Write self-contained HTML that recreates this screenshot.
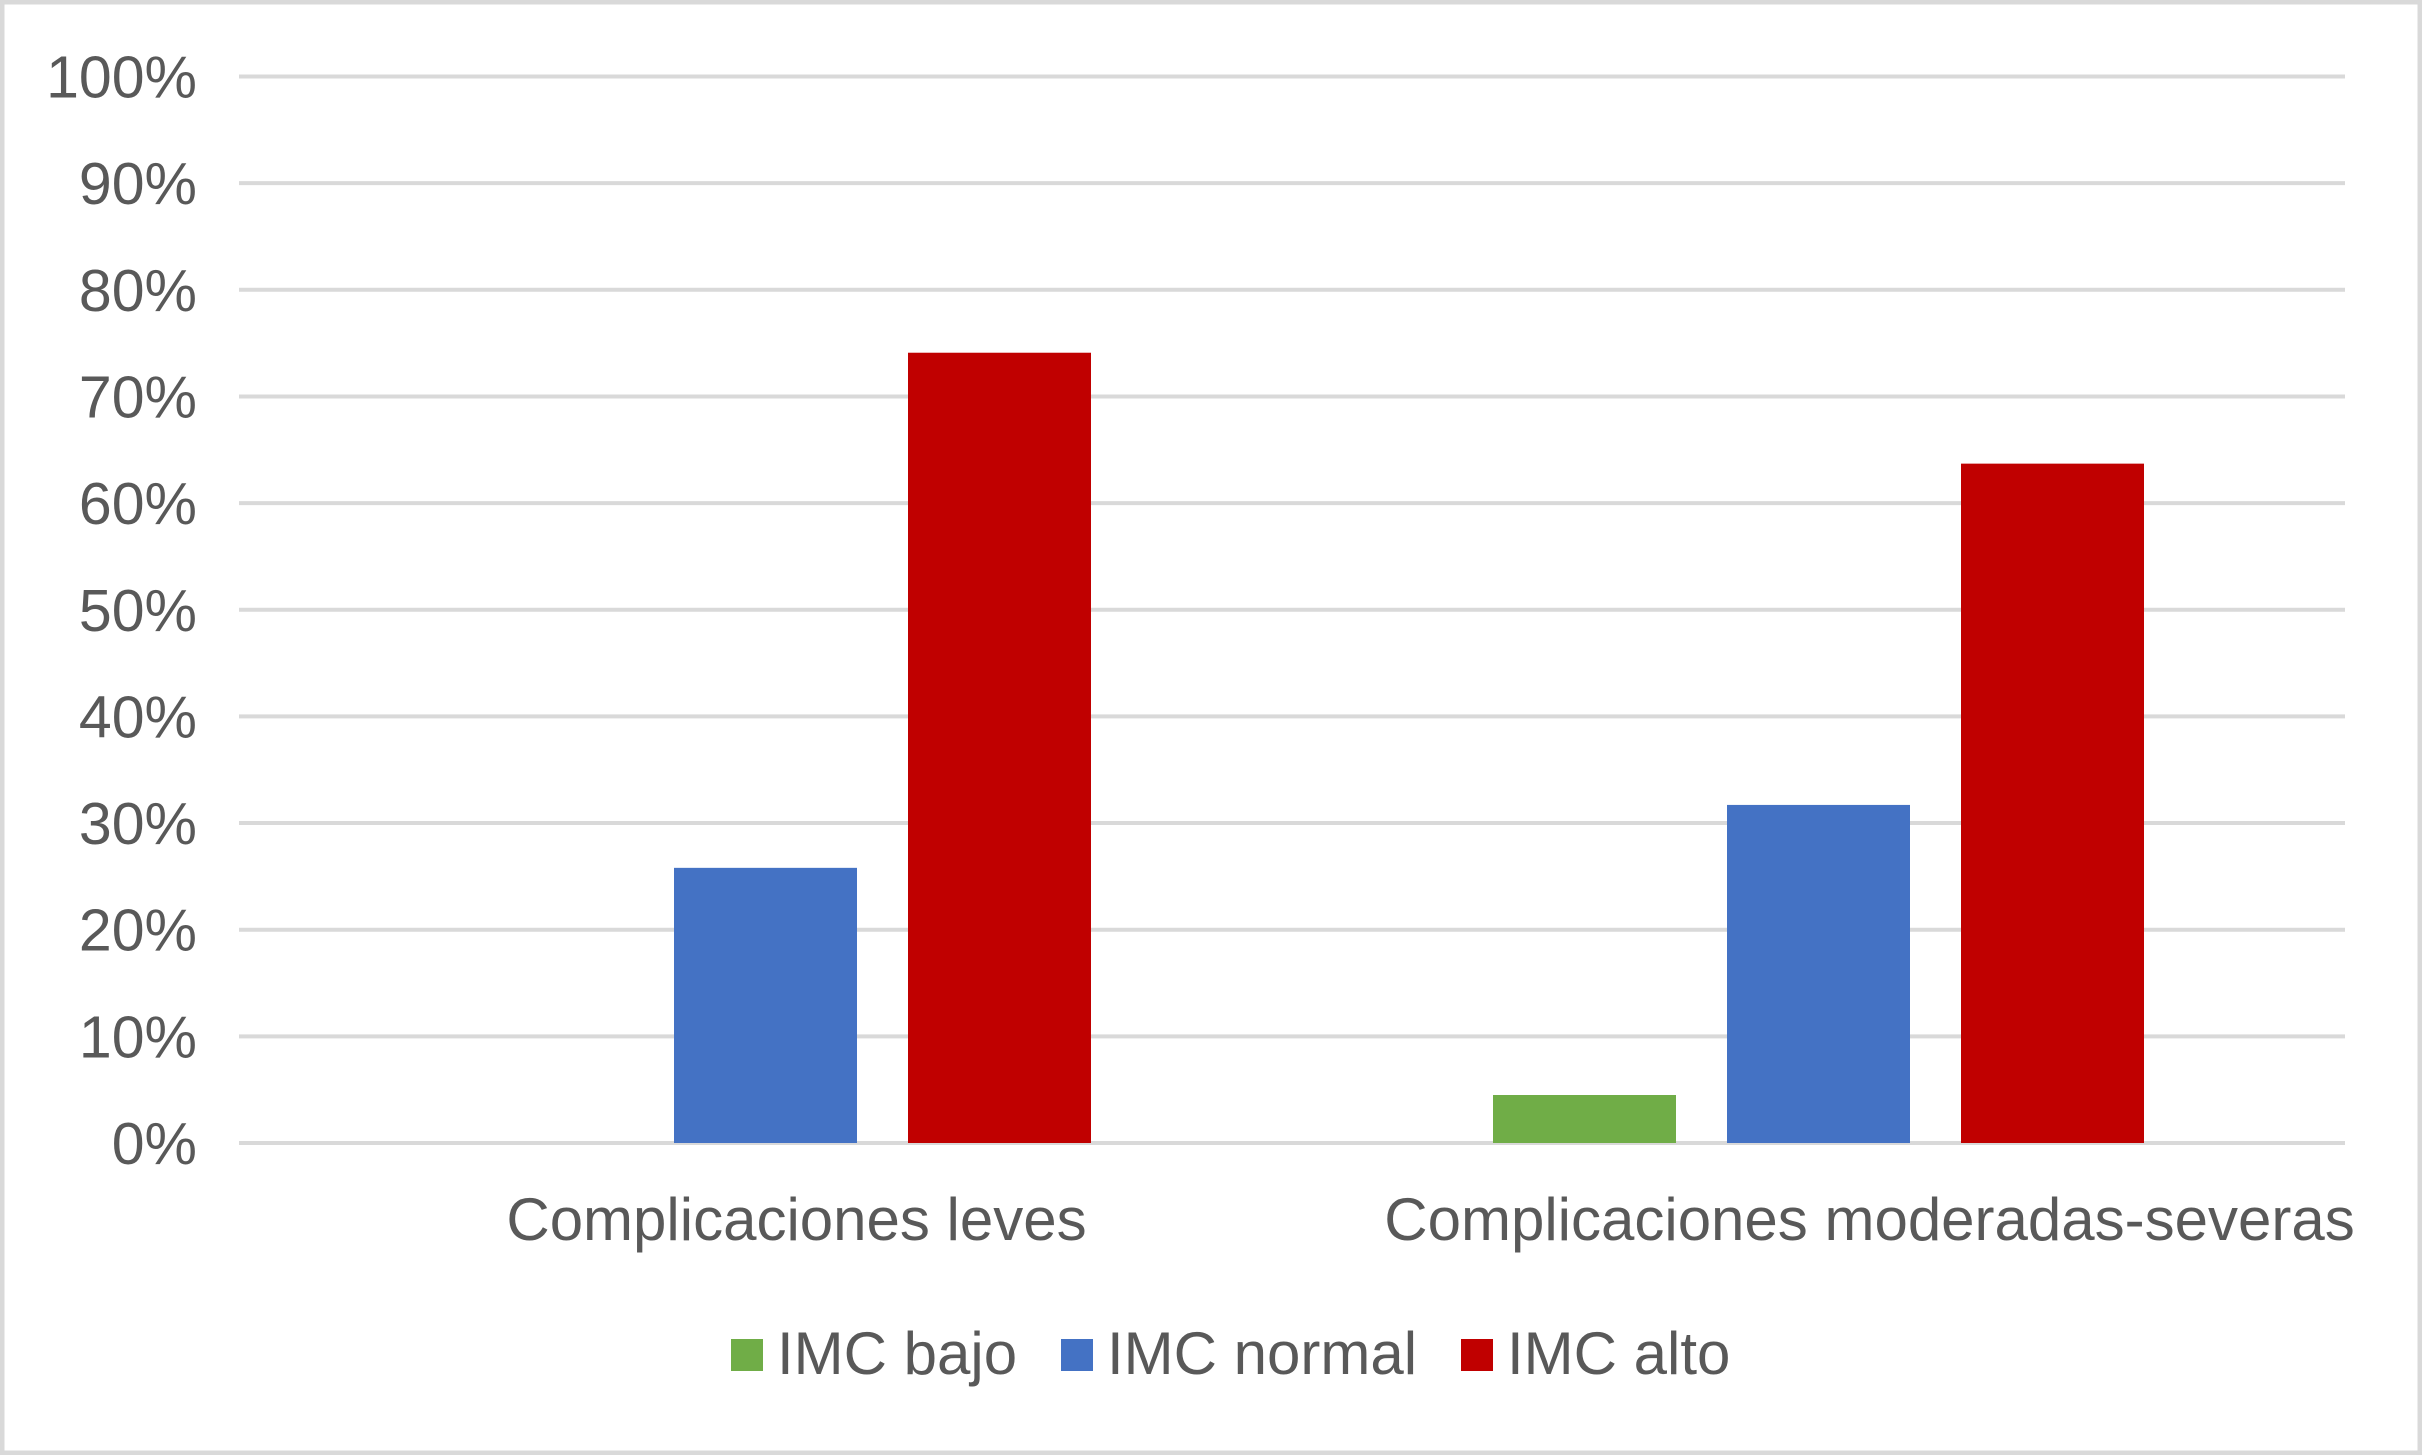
<!DOCTYPE html>
<html><head><meta charset="utf-8"><style>
html,body{margin:0;padding:0;background:#fff}
svg{display:block;font-family:"Liberation Sans",Arial,sans-serif}
</style></head><body>
<svg id="c" width="2422" height="1455" xmlns="http://www.w3.org/2000/svg">
<rect x="2" y="2" width="2418" height="1451" fill="#fff" stroke="#d9d9d9" stroke-width="5"/>
<g id="grid"></g><g id="bars"></g><g id="labels"></g>
<g id="legend"></g>
</svg>
<script>
const categories = ["Complicaciones leves", "Complicaciones moderadas-severas"];
const seriesNames = ["IMC bajo", "IMC normal", "IMC alto"];
const imcBajo = [0, 4.5];
const imcNormal = [25.8, 31.7];
const imcAlto = [74.1, 63.7];
const tickLabels = ["0%","10%","20%","30%","40%","50%","60%","70%","80%","90%","100%"];
const tickValues = [0,10,20,30,40,50,60,70,80,90,100];

const NS="http://www.w3.org/2000/svg";
const colors=["#70ad47","#4472c4","#c00000"];
const x0=239,x1=2345,y0=1143,y1=76.5;
const yScale=v=>y0-(v/100)*(y0-y1);
const catW=(x1-x0)/categories.length;
const catCenter=i=>x0+catW*(i+0.5);
const labelShift=[31,51];
const barW=183,step=234;
function mk(tag,attrs,parent){const e=document.createElementNS(NS,tag);for(const k in attrs)e.setAttribute(k,attrs[k]);parent.appendChild(e);return e;}
const grid=document.getElementById('grid');
tickValues.forEach((v,i)=>{
  const l=mk('line',{x1:x0,x2:x1,y1:yScale(v),y2:yScale(v),stroke:'#d9d9d9','stroke-width':4},grid);
  
  
  const t=mk('text',{x:197,y:yScale(v)+21,'text-anchor':'end','font-size':59,fill:'#595959'},grid);
  t.textContent=tickLabels[i];
  
  
});
const bars=document.getElementById('bars');
const series=[imcBajo,imcNormal,imcAlto];
series.forEach((s,si)=>{
  s.forEach((v,ci)=>{
    const cx=catCenter(ci)+(si-1)*step;
    const r=mk('rect',{x:cx-barW/2,y:yScale(v),width:barW,height:yScale(0)-yScale(v),fill:colors[si]},bars);
    
    
  });
});
const labels=document.getElementById('labels');
categories.forEach((c,i)=>{
  const t=mk('text',{x:catCenter(i)+labelShift[i],y:1240,'text-anchor':'middle','font-size':60,fill:'#595959'},labels);
  t.textContent=c;
  
  
});
const legend=document.getElementById('legend');
const lx=[731,1061,1461];
seriesNames.forEach((n,i)=>{
  const r=mk('rect',{x:lx[i],y:1339,width:32,height:32,fill:colors[i]},legend);
  
  
  const t=mk('text',{x:lx[i]+46,y:1374,'font-size':60,fill:'#595959'},legend);
  t.textContent=n;
  
  
});
</script>
</body></html>
